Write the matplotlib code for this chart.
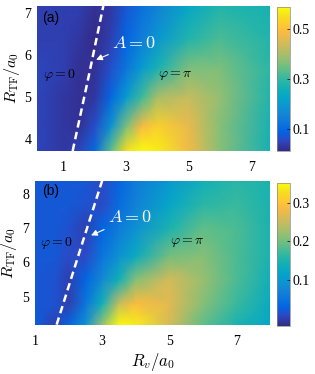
import numpy as np
import matplotlib
matplotlib.use("Agg")
import matplotlib.pyplot as plt
from matplotlib.colors import LinearSegmentedColormap

plt.rcParams['font.family'] = 'Liberation Serif'
plt.rcParams['mathtext.fontset'] = 'cm'

# parula-like colormap (MATLAB default)
parula_pos = [0, 5, 8, 12, 16, 20, 24, 28, 32, 36, 40, 44, 48, 52, 54, 56, 59, 63]
parula_rgb = [
    (0.2081, 0.1663, 0.5292), (0.1707, 0.2919, 0.7792), (0.0117, 0.3875, 0.8820),
    (0.0498, 0.4586, 0.8641), (0.0793, 0.5200, 0.8312), (0.0343, 0.5966, 0.8199),
    (0.0228, 0.6535, 0.7768), (0.0843, 0.6928, 0.7062), (0.2178, 0.7250, 0.6193),
    (0.3953, 0.7459, 0.5244), (0.5709, 0.7485, 0.4494), (0.7184, 0.7411, 0.3905),
    (0.8507, 0.7299, 0.3360), (0.9739, 0.7314, 0.2666), (0.9990, 0.7653, 0.2164),
    (0.9880, 0.8066, 0.1794), (0.9626, 0.8705, 0.1309), (0.9763, 0.9831, 0.0538),
]
parula = LinearSegmentedColormap.from_list(
    'parula', list(zip([p / 63 for p in parula_pos], parula_rgb)))

# ---- panel (a) ----
xa = [0.15, 1.0, 1.5, 2.0, 2.5, 3.0, 3.5, 4.0, 5.0, 6.0, 7.6]
ya = [3.72, 4.3, 5.0, 5.7, 6.4, 7.17]
za = [
    [0.05, 0.03, 0.05, 0.10, 0.33, 0.55, 0.59, 0.57, 0.48, 0.37, 0.27],
    [0.05, 0.03, 0.02, 0.06, 0.18, 0.36, 0.49, 0.53, 0.47, 0.37, 0.27],
    [0.05, 0.03, 0.02, 0.03, 0.09, 0.20, 0.31, 0.40, 0.43, 0.38, 0.28],
    [0.05, 0.04, 0.02, 0.02, 0.06, 0.12, 0.20, 0.27, 0.36, 0.36, 0.29],
    [0.04, 0.04, 0.03, 0.01, 0.04, 0.09, 0.14, 0.19, 0.28, 0.32, 0.28],
    [0.04, 0.04, 0.04, 0.02, 0.03, 0.07, 0.11, 0.15, 0.23, 0.28, 0.27],
]
line_a_x = [1.29, 1.80, 2.27]
line_a_y = [3.72, 5.49, 7.17]

# ---- panel (b) ----
xb = [1.0, 1.6, 2.0, 2.5, 3.0, 3.5, 4.0, 5.0, 6.0, 7.0, 8.0]
yb = [4.17, 4.8, 5.5, 6.2, 7.0, 7.7, 8.38]
zb = [
    [0.025, 0.00, 0.03, 0.09, 0.22, 0.35, 0.34, 0.26, 0.19, 0.15, 0.12],
    [0.02, 0.015, 0.00, 0.05, 0.14, 0.25, 0.29, 0.27, 0.21, 0.17, 0.13],
    [0.02, 0.015, 0.00, 0.03, 0.08, 0.14, 0.21, 0.26, 0.22, 0.18, 0.14],
    [0.02, 0.02, 0.01, 0.01, 0.05, 0.09, 0.13, 0.20, 0.21, 0.18, 0.15],
    [0.02, 0.02, 0.015, 0.00, 0.03, 0.06, 0.09, 0.15, 0.19, 0.18, 0.15],
    [0.02, 0.02, 0.02, 0.015, 0.01, 0.04, 0.07, 0.12, 0.16, 0.17, 0.15],
    [0.02, 0.02, 0.02, 0.02, 0.01, 0.03, 0.06, 0.10, 0.14, 0.16, 0.15],
]
line_b_x = [1.645, 2.33, 3.01]
line_b_y = [4.18, 6.32, 8.42]

fig = plt.figure(figsize=(3.15, 3.74), dpi=100)
ax1 = fig.add_axes([0.1175, 0.5963, 0.7397, 0.3877])
cax1 = fig.add_axes([0.8794, 0.5963, 0.0413, 0.385])
ax2 = fig.add_axes([0.1111, 0.131, 0.746, 0.385])
cax2 = fig.add_axes([0.8794, 0.1283, 0.0413, 0.383])


def panel(ax, cax, x, y, z, vmin, vmax, lx, ly, xlim, ylim, xticks, yticks, cticks):
    X, Y = np.meshgrid(x, y)
    m = ax.pcolormesh(X, Y, np.array(z), shading='gouraud', cmap=parula,
                      vmin=vmin, vmax=vmax, rasterized=True)
    ln, = ax.plot(lx, ly, color='white', lw=1.8)
    ln.set_dashes((3.0, 1.8))
    ax.set_xlim(*xlim)
    ax.set_ylim(*ylim)
    ax.set_xticks(xticks)
    ax.set_yticks(yticks)
    ax.tick_params(length=0, labelsize=10)
    ax.tick_params(axis='x', pad=7)
    ax.tick_params(axis='y', pad=4)
    for s in ax.spines.values():
        s.set_visible(False)
    cb = fig.colorbar(m, cax=cax, ticks=cticks)
    cb.ax.tick_params(direction='in', length=2, width=0.5, labelsize=10, pad=2)
    cb.outline.set_linewidth(0.5)
    cb.outline.set_edgecolor('#888888')
    return m


panel(ax1, cax1, xa, ya, za, 0.01, 0.59, line_a_x, line_a_y,
      (0.15, 7.6), (3.72, 7.17), [1, 3, 5, 7], [4, 5, 6, 7], [0.1, 0.3, 0.5])
panel(ax2, cax2, xb, yb, zb, -0.02, 0.352, line_b_x, line_b_y,
      (1, 8), (4.17, 8.38), [1, 3, 5, 7], [5, 6, 7, 8], [0.1, 0.2, 0.3])

arrow = dict(arrowstyle='-|>', color='white', lw=0.8, mutation_scale=9,
             shrinkA=1, shrinkB=0)

ax1.text(0.32, 6.88, '(a)', family='Liberation Sans', fontsize=10, va='center')
ax1.text(0.33, 5.52, r'$\varphi=0$', fontsize=10, va='center')
ax1.text(4.02, 5.52, r'$\varphi=\pi$', fontsize=10, va='center')
ax1.annotate(r'$A=0$', xy=(2.04, 5.89), xytext=(2.56, 6.28), color='white',
             fontsize=13, va='center', arrowprops=arrow)

ax2.text(1.2, 8.09, '(b)', family='Liberation Sans', fontsize=10, va='center')
ax2.text(1.15, 6.58, r'$\varphi=0$', fontsize=10, va='center')
ax2.text(5.02, 6.58, r'$\varphi=\pi$', fontsize=10, va='center')
ax2.annotate(r'$A=0$', xy=(2.67, 6.79), xytext=(3.18, 7.3), color='white',
             fontsize=13, va='center', arrowprops=arrow)

ax1.set_ylabel(r'$R_{\rm TF}/a_0$', fontsize=11.5)
ax2.set_ylabel(r'$R_{\rm TF}/a_0$', fontsize=11.5)
ax1.yaxis.set_label_coords(-0.064, 0.5)
ax2.yaxis.set_label_coords(-0.07, 0.5)
ax2.set_xlabel(r'$R_v/a_0$', fontsize=12, labelpad=2)

fig.savefig('out.png', dpi=100)
